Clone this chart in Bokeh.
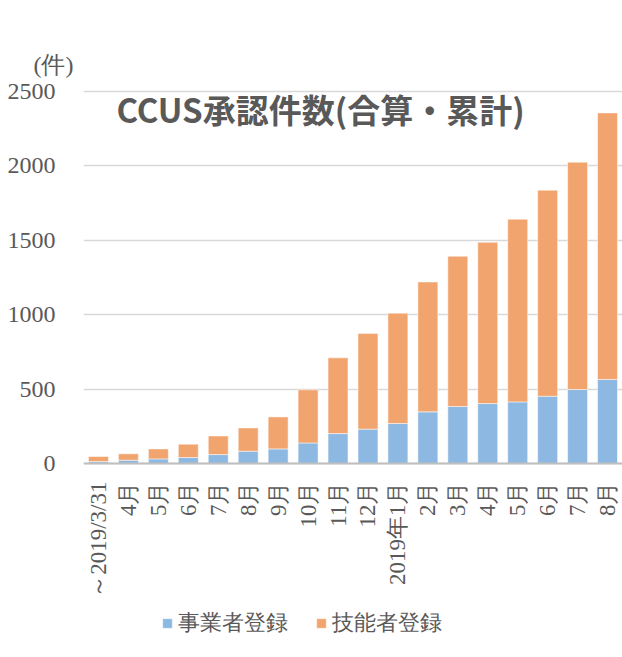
import math
from bokeh.plotting import figure
from bokeh.models import (ColumnDataSource, Range1d, FixedTicker, Label, Legend, LegendItem, Title, Span)
from bokeh.embed import file_html
from bokeh.resources import INLINE

categories = ["～2019/3/31", "4月", "5月", "6月", "7月", "8月", "9月", "10月", "11月",
              "12月", "2019年1月", "2月", "3月", "4月", "5月", "6月", "7月", "8月"]
jigyosha = [13, 22, 31, 40, 60, 83, 98, 138, 201, 231, 269, 347, 383, 403, 414, 452, 497, 565]
ginosha = [34, 43, 67, 90, 125, 156, 215, 357, 509, 643, 741, 873, 1010, 1084, 1228, 1385, 1528, 1791]
series_names = ["事業者登録", "技能者登録"]
y_ticks = [0, 500, 1000, 1500, 2000, 2500]

BLUE = "#8DB8E2"
ORANGE = "#F1A46E"
TEXT = "#595959"

# layout (pixels)
TOP, LEFT, W, H = 84, 83, 622, 657
GRID_TOP = 91         # pixel row of the 2500 gridline
ZERO = 463            # pixel row of the 0 baseline
Y_MAX = 2500
px_per_unit = (ZERO - GRID_TOP) / Y_MAX
y_hi = Y_MAX + (GRID_TOP - TOP) / px_per_unit
y_lo = -(H - ZERO) / px_per_unit

xs = list(range(len(categories)))
source = ColumnDataSource(dict(x=xs, biz=jigyosha, skill=ginosha, base=[0] * len(xs), lab=categories))

p = figure(width=W, height=H, output_backend="svg", toolbar_location=None,
           x_range=Range1d(-0.5, len(categories) - 0.5), y_range=Range1d(y_lo, y_hi),
           x_axis_location=None,
           min_border_left=LEFT, min_border_right=0, min_border_top=TOP, min_border_bottom=0)
p.outline_line_color = None
p.background_fill_color = "white"
p.border_fill_color = "white"

renderers = p.vbar_stack(["biz", "skill"], x="x", width=0.667, source=source,
                         color=[BLUE, ORANGE], line_color="white", line_alpha=0.5, line_width=1)

# category axis (baseline + rotated labels)
p.add_layout(Span(location=0, dimension="width", line_color="#bfbfbf", line_width=2))
p.text(x="x", y="base", text="lab", source=source, angle=math.pi / 2,
       text_align="right", text_baseline="middle", y_offset=18,
       text_font="'Liberation Serif'", text_font_size="23px", text_color=TEXT)

# value axis
p.yaxis.ticker = FixedTicker(ticks=y_ticks)
p.yaxis.major_label_text_font = "'Liberation Serif'"
p.yaxis.major_label_text_font_size = "24px"
p.yaxis.major_label_text_color = TEXT
p.yaxis.major_label_standoff = 22
p.yaxis.axis_line_color = None
p.yaxis.major_tick_line_color = None
p.yaxis.minor_tick_line_color = None

p.xgrid.grid_line_color = None
p.ygrid.ticker = FixedTicker(ticks=y_ticks)
p.ygrid.grid_line_color = "#d9d9d9"
p.ygrid.grid_line_width = 1.5

# titles
p.add_layout(Label(x=237, y=H - 108, x_units="screen", y_units="screen",
                   text="CCUS承認件数(合算・累計)", text_align="center", text_baseline="middle",
                   text_font="'Noto Sans CJK JP'", text_font_style="bold",
                   text_font_size="33px", text_color=TEXT))
p.add_layout(Title(text="(件)", align="left", offset=-50, standoff=13,
                   text_font="'Liberation Serif'", text_font_size="24px", text_font_style="normal",
                   text_color=TEXT), "above")

legend = Legend(items=[LegendItem(label=series_names[0], renderers=[renderers[0]]),
                       LegendItem(label=series_names[1], renderers=[renderers[1]])],
                location=(78, 19), orientation="horizontal",
                glyph_width=12, glyph_height=12, label_standoff=5, spacing=27,
                padding=0, margin=0, border_line_color=None, background_fill_alpha=0,
                label_text_font="'Liberation Serif'", label_text_font_size="22px",
                label_text_color=TEXT)
p.add_layout(legend, "center")

open("out.html", "w").write(file_html(p, INLINE))
